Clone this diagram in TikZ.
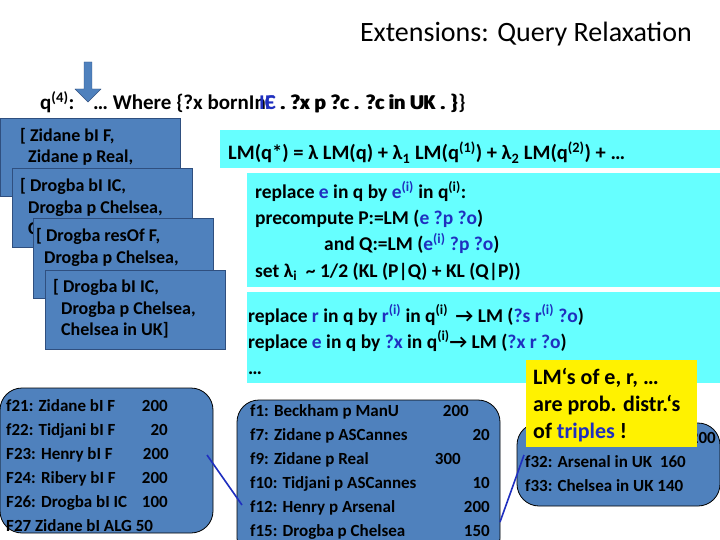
\documentclass[tikz,border=0pt]{standalone}
\usepackage{fontspec}
\setmainfont{Carlito}
\usetikzlibrary{shapes.arrows}
\definecolor{boxblue}{HTML}{4F81BD}
\definecolor{boxedge}{HTML}{2F4F7F}
\definecolor{cyanbg}{HTML}{66FFFF}
\definecolor{txtblue}{HTML}{1F2FBF}
\tikzset{
  sqbox/.style={fill=boxblue,draw=boxedge,line width=0.8pt},
  rbox/.style={fill=boxblue,draw=black,line width=0.8pt,rounded corners=22pt},
  t/.style={anchor=base west,inner sep=0pt,font=\fontsize{18}{20}\selectfont\bfseries},
  tb/.style={anchor=base west,inner sep=0pt,font=\fontsize{19.5}{22}\selectfont\bfseries},
  tf/.style={anchor=base west,inner sep=0pt,font=\fontsize{17}{18}\selectfont\bfseries},
  tn/.style={anchor=base east,inner sep=0pt,font=\fontsize{17}{18}\selectfont\bfseries},
  ty/.style={anchor=base west,inner sep=0pt,font=\fontsize{22}{24}\selectfont\bfseries},
  tq/.style={anchor=base west,inner sep=0pt,font=\fontsize{21}{24}\selectfont\bfseries},
}
\newcommand{\bl}[1]{\textcolor{txtblue}{#1}}
\begin{document}
\begin{tikzpicture}[x=1pt,y=-1pt]
\useasboundingbox (0,0) rectangle (720,540);
\fill[white] (0,0) rectangle (720,540);
% title
\node[anchor=base east,inner sep=0pt,font=\fontsize{28}{32}\selectfont] (title) at (692,42) {Extensions: Query Relaxation};
% arrow
\node[single arrow,fill=boxblue,draw=boxedge,shape border rotate=270,minimum height=40pt,minimum width=26pt,single arrow head extend=5pt,inner sep=2pt] (arr) at (88,80) {};
% query line
\node[tq] (q) at (40,110) {q\textsuperscript{(4)}:};
\node[tq] (where) at (93,110) {… Where \{?x bornIn};
\node[tq] (wa) at (259,110) {\bl{IC} . ?x p ?c . ?c in UK . \}\}};
\node[tq] (wb) at (265,110) {\bl{F} . ?x p ?c . ?c in UK . \}};
% cyan panels
\fill[cyanbg] (220,130) rectangle (720,168);
\fill[cyanbg] (247,173) rectangle (720,287);
\fill[cyanbg] (247,292) rectangle (720,383);
\node[tb,font=\fontsize{20.5}{22}\selectfont\bfseries] (lm) at (228,160) {LM(q*) = λ LM(q) + λ\textsubscript{1} LM(q\textsuperscript{(1)}) + λ\textsubscript{2} LM(q\textsuperscript{(2)}) + …};
\node[tb] (r1) at (255,199) {replace \bl{e} in q by \bl{e\textsuperscript{(i)}} in q\textsuperscript{(i)}:};
\node[tb] (r2) at (255,225) {precompute P:=LM (\bl{e ?p ?o})};
\node[tb] (r3) at (324,251) {and Q:=LM (\bl{e\textsuperscript{(i)} ?p ?o})};
\node[tb] (r4) at (255,277) {set λ\textsubscript{i}\ \ \textasciitilde\ 1/2 (KL (P|Q) + KL (Q|P))};
\node[tb] (s1) at (248,322) {replace \bl{r} in q by \bl{r\textsuperscript{(i)}} in q\textsuperscript{(i)} \,→ LM (\bl{?s r\textsuperscript{(i)} ?o})};
\node[tb] (s2) at (248,348) {replace \bl{e} in q by \bl{?x} in q\textsuperscript{(i)}→ LM (\bl{?x r ?o})};
\node[tb] (s3) at (248,374) {…};
% stacked boxes
\draw[sqbox] (0,118) rectangle (180,196);
\node[t] (b1a) at (20,142) {[ Zidane bI F,};
\node[t] (b1b) at (28,163) {Zidane p Real,};
\draw[sqbox] (12,168) rectangle (192,247);
\node[t] (b2a) at (20,192) {[ Drogba bI IC,};
\node[t] (b2b) at (28,214) {Drogba p Chelsea,};
\node[t] (b2c) at (28,234) {C};
\draw[sqbox] (33,218) rectangle (213,298);
\node[t] (b3a) at (36,241) {[ Drogba resOf F,};
\node[t] (b3b) at (44,263) {Drogba p Chelsea,};
\draw[sqbox] (45,270) rectangle (225,349);
\node[t] (b4a) at (53,292) {[ Drogba bI IC,};
\node[t] (b4b) at (61,314) {Drogba p Chelsea,};
\node[t] (b4c) at (61,335) {Chelsea in UK]};
% left fact box
\draw[rbox] (0,388) rectangle (213,533);
\node[tf] at (6,411) {f21: Zidane bI F};
\node[tn] at (168,411) {200};
\node[tf] at (6,435) {f22: Tidjani bI F};
\node[tn] at (168,435) {20};
\node[tf] at (6,459) {F23: Henry bI F};
\node[tn] at (169,459) {200};
\node[tf] at (6,483) {F24: Ribery bI F};
\node[tn] at (168,483) {200};
\node[tf] at (6,507) {F26: Drogba bI IC};
\node[tn] at (168,507) {100};
\node[tf] at (6,531) {F27 Zidane bI ALG 50};
% right fact box
\draw[rbox] (237,400) rectangle (500,560);
\node[tf] (f1) at (250,416) {f1: Beckham p ManU};
\node[tn] at (469,416) {200};
\node[tf] (f7) at (250,440) {f7: Zidane p ASCannes};
\node[tn] at (490,440) {20};
\node[tf] (f9) at (250,464) {f9: Zidane p Real};
\node[tn] at (461,464) {300};
\node[tf] (f10) at (250,488) {f10: Tidjani p ASCannes};
\node[tn] at (490,488) {10};
\node[tf] (f12) at (250,512) {f12: Henry p Arsenal};
\node[tn] at (490,512) {200};
\node[tf] (f15) at (250,536) {f15: Drogba p Chelsea};
\node[tn] at (490,536) {150};
% third fact box
\draw[rbox] (517,423) rectangle (720,506);
\node[tn] at (716,443) {200};
\node[tf] (f32) at (525,467) {f32: Arsenal in UK\ \ 160};
\node[tf] (f33) at (525,491) {f33: Chelsea in UK 140};
% connectors
\coordinate (c1) at (207,455);
\coordinate (c2) at (242,505);
\coordinate (c3) at (500,522);
\coordinate (c4) at (524,455);
\draw[txtblue,line width=1.6pt] (c1) -- (c2);
\draw[txtblue,line width=1.6pt] (c3) -- (c4);
% yellow note
\fill[yellow] (526,360) rectangle (697,447);
\node[ty] (y1) at (533,384) {LM‘s of e, r, …};
\node[ty] (y2) at (533,411) {are prob. distr.‘s};
\node[ty] (y3) at (533,438) {of \bl{triples} !};
\end{tikzpicture}
\end{document}
